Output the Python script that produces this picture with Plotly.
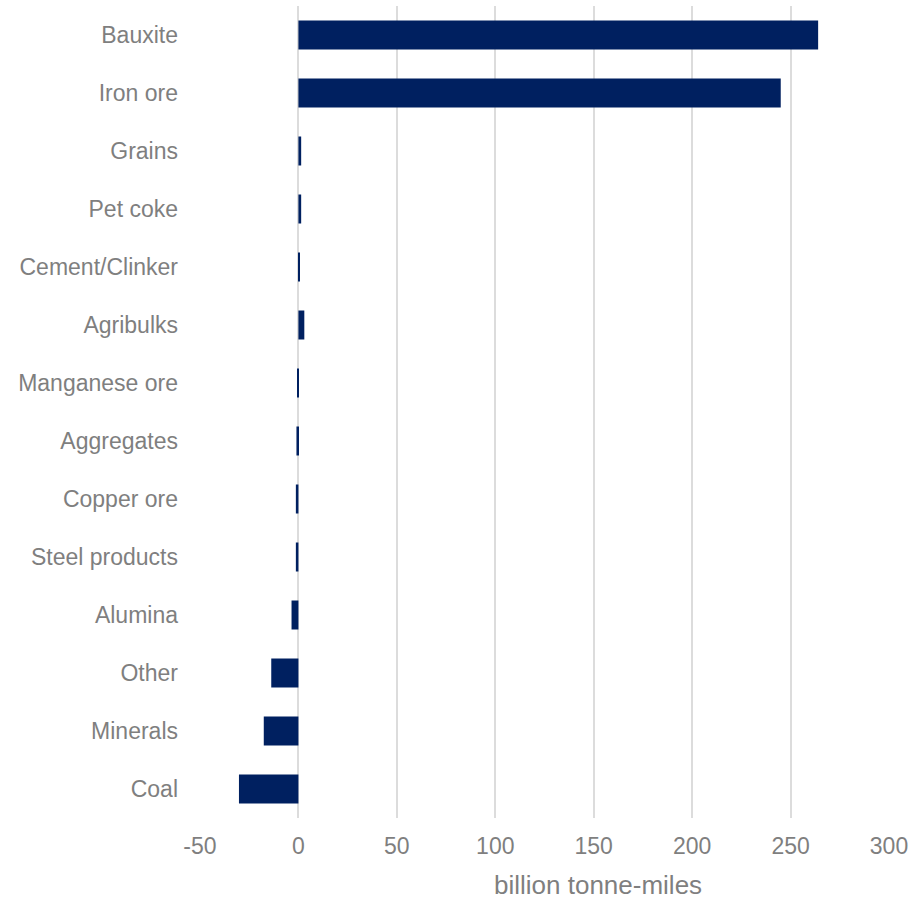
import plotly.graph_objects as go

categories = ["Bauxite", "Iron ore", "Grains", "Pet coke", "Cement/Clinker", "Agribulks",
              "Manganese ore", "Aggregates", "Copper ore", "Steel products", "Alumina",
              "Other", "Minerals", "Coal"]
values = [264, 245, 1.4, 1.4, 0.4, 3.0, -0.4, -1.0, -1.3, -1.3, -3.5, -13.8, -17.6, -30.2]

x_ticks = [-50, 0, 50, 100, 150, 200, 250, 300]
x_tick_text = ["-50", "0", "50", "100", "150", "200", "250", "300"]
x_title = "billion tonne-miles"

fig = go.Figure(go.Bar(
    x=values,
    y=categories,
    orientation="h",
    marker=dict(color="#002060", line=dict(width=0)),
    width=0.5,
))

fig.update_layout(
    width=913,
    height=899,
    margin=dict(l=199, r=23, t=6, b=81),
    paper_bgcolor="white",
    plot_bgcolor="white",
    font=dict(family="Liberation Sans, Arial, sans-serif", size=23, color="#7f7f7f"),
    showlegend=False,
)

fig.update_xaxes(
    range=[-50.5, 300.5],
    tickvals=x_ticks,
    ticktext=x_tick_text,
    showgrid=True,
    gridcolor="#dcdcdc",
    gridwidth=2,
    zeroline=True,
    zerolinecolor="#dcdcdc",
    zerolinewidth=2,
    showline=False,
    ticks="",
    ticklabelstandoff=12,
)

# axis title placed under the positive part of the scale
fig.add_annotation(
    text=x_title,
    x=152, xref="x",
    y=-0.0825, yref="paper",
    xanchor="center", yanchor="middle",
    showarrow=False,
    font=dict(size=26, color="#7f7f7f"),
)

fig.update_yaxes(
    categoryorder="array",
    categoryarray=categories,
    autorange="reversed",
    showgrid=False,
    showline=False,
    ticks="",
    ticklabelstandoff=20,
)

fig.write_html("out.html")
